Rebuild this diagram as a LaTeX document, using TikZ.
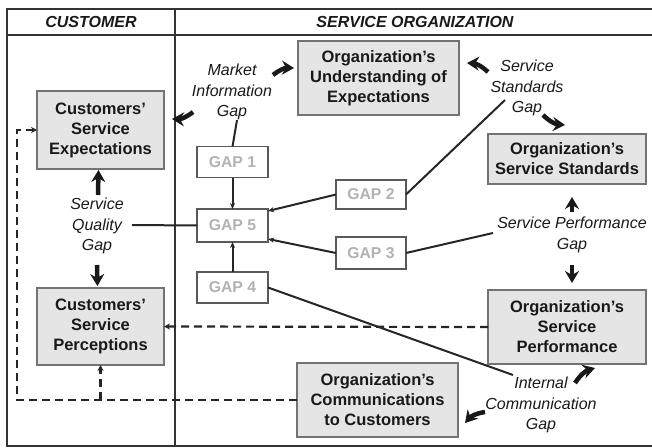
\documentclass[tikz,border=0pt]{standalone}
\usepackage{fontspec}
\setmainfont{Liberation Sans}
\usetikzlibrary{arrows.meta,positioning}

\begin{document}
\begin{tikzpicture}[
        x=1pt, y=-1pt,
        box/.style={draw=black!55, fill=black!10, line width=1.5pt, align=center, inner sep=0pt, outer sep=0pt, text=black!90, font=\bfseries\fontsize{16.5}{20}\selectfont},
        gapbox/.style={draw=black!65, fill=white, line width=1.5pt, inner sep=0pt, outer sep=0pt, minimum width=71pt, minimum height=31pt, text=black!30, font=\bfseries\fontsize{15.7}{18}\selectfont},
        gaplabel/.style={align=center, inner sep=0pt, text=black!90, font=\itshape\fontsize{16}{20.5}\selectfont},
        header/.style={inner sep=0pt, text=black!90, font=\bfseries\itshape\fontsize{16}{19}\selectfont},
        link/.style={line width=2pt, draw=black!85},
        feed/.style={link, -{Stealth[length=6pt,width=5pt]}},
        dashlink/.style={line width=2.2pt, draw=black!85, dash pattern=on 8pt off 5pt, -{Stealth[length=6pt,width=6pt]}},
        gaparrow/.style={line width=4.5pt, draw=black!90, -{Stealth[length=12pt,width=14pt,inset=4pt]}}
    ]
    \useasboundingbox (0,0) rectangle (652,447);

    % Frame and columns
    \draw[line width=2.5pt, black!80] (652,9) -- (7,9) -- (7,446) -- (652,446);
    \draw[line width=2.5pt, black!80] (7,35) -- (652,35);
    \draw[line width=2.5pt, black!80] (175,9) -- (175,446);
    \node[header] (custhead) at (91,22) {CUSTOMER};
    \node[header] (orghead) at (415,22) {SERVICE ORGANIZATION};

    % Boxes
    \node[box, minimum width=127pt, minimum height=78pt] (custexp) at (100.5,130) {Customers'\\Service\\Expectations};
    \node[box, minimum width=127pt, minimum height=77pt] (custperc) at (100.5,326.5) {Customers'\\Service\\Perceptions};
    \node[box, minimum width=161pt, minimum height=74pt] (orgund) at (378.5,78) {Organization's\\Understanding of\\Expectations};
    \node[box, minimum width=158pt, minimum height=50pt] (orgstd) at (567,159) {Organization's\\Service Standards};
    \node[box, minimum width=158pt, minimum height=74pt] (orgperf) at (567,327) {Organization's\\Service\\Performance};
    \node[box, minimum width=161pt, minimum height=74pt] (orgcomm) at (377.5,400) {Organization's\\Communications\\to Customers};

    % Gaps
    \node[gapbox] (gap1) at (232.5,162) {GAP 1};
    \node[gapbox, minimum height=33pt] (gap5) at (232.5,225.5) {GAP 5};
    \node[gapbox] (gap4) at (232.5,287.5) {GAP 4};
    \node[gapbox, minimum width=70pt, minimum height=29pt] (gap2) at (371,194.5) {GAP 2};
    \node[gapbox, minimum width=70pt, minimum height=32pt] (gap3) at (371,253) {GAP 3};

    % Gap labels
    \node[gaplabel] (mig) at (232,92) {Market\\Information\\Gap};
    \node[gaplabel] (ssg) at (527,88) {Service\\Standards\\Gap};
    \node[gaplabel] (spg) at (572,235) {Service Performance\\Gap};
    \node[gaplabel] (icg) at (541,405) {Internal\\Communication\\Gap};
    \node[gaplabel] (sqg) at (97,226) {Service\\Quality\\Gap};
    \coordinate (ssgend) at (505,100);
    \coordinate (spgend) at (493,233);
    \coordinate (icgend) at (513,375);
    \coordinate (sqgend) at (132,225);
    \coordinate (loopcorner) at (17,400);

    % Links to labels
    \draw[link] ([xshift=5pt]mig.south) -- (gap1.north);
    \draw[link] (gap2.east) -- (ssgend);
    \draw[link] (gap3.east) -- (spgend);
    \draw[link] (gap4.east) -- (icgend);
    \draw[link] (gap5.west) -- (sqgend);

    % Gaps into gap 5
    \draw[feed] (gap1.south) -- (gap5.north);
    \draw[feed] (gap4.north) -- (gap5.south);
    \draw[feed] (gap2.west) -- ([yshift=-2pt]gap5.north east);
    \draw[feed] (gap3.west) -- ([yshift=3pt]gap5.south east);

    % Dashed flows
    \draw[dashlink] (orgperf.west) -- (custperc.east);
    \draw[dashlink] (orgcomm.west) -- (loopcorner) |- (custexp.west);
    \draw[dashlink] (custperc.south |- orgcomm.west) -- (custperc.south);

    % Bold gap arrows
    \draw[gaparrow] ([shift={(41,-17)}]mig.center) to[bend left=20] ([shift={(-4,-10)}]orgund.west);
    \draw[gaparrow] ([shift={(-39,20)}]mig.center) to[bend left=20] ([shift={(8,-11)}]custexp.east);
    \draw[gaparrow] ([shift={(-39,-16)}]ssg.center) to[bend right=20] ([shift={(8,-15)}]orgund.east);
    \draw[gaparrow] ([shift={(16,27)}]ssg.center) to[bend right=20] ([shift={(-2,-9)}]orgstd.north);
    \draw[gaparrow] ([shift={(0,-23)}]spg.center) -- ([shift={(5,13)}]orgstd.south);
    \draw[gaparrow] ([shift={(0,30)}]spg.center) -- ([shift={(5,-7)}]orgperf.north);
    \draw[gaparrow] ([shift={(1,-31)}]sqg.center) -- ([shift={(-2,1)}]custexp.south);
    \draw[gaparrow] ([shift={(0,39)}]sqg.center) -- ([shift={(-3,-2)}]custperc.north);
    \draw[gaparrow] ([shift={(34,-22)}]icg.center) to[bend left=20] ([shift={(28,4)}]orgperf.south);
    \draw[gaparrow] ([shift={(-56,7)}]icg.center) to[bend right=20] ([shift={(7,23)}]orgcomm.east);

\end{tikzpicture}
\end{document}
